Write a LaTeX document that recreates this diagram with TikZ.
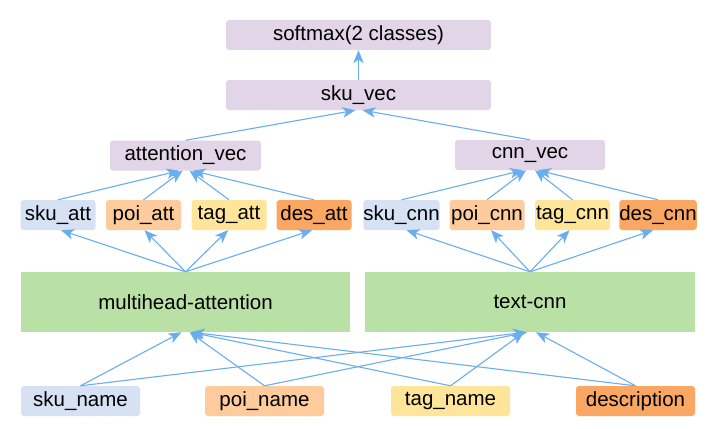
\documentclass[tikz,border=0pt]{standalone}
\usepackage{fontspec}
\setmainfont{Liberation Sans}
\usetikzlibrary{arrows.meta}
\definecolor{lav}{HTML}{E1D5E7}
\definecolor{cblue}{HTML}{D6E2F4}
\definecolor{cpoi}{HTML}{FDCB9C}
\definecolor{ctag}{HTML}{FFE59A}
\definecolor{cdes}{HTML}{F9A763}
\definecolor{cgreen}{HTML}{B9E0A5}
\definecolor{carrow}{HTML}{6AAEEE}
\tikzset{
  box/.style={rounded corners=3pt, inner sep=0pt, text=black,
    font=\fontsize{20.5}{24}\selectfont},
  smallbox/.style={box, minimum width=75pt, minimum height=30pt},
  namebox/.style={box, minimum width=119pt, minimum height=30pt},
  vecbox/.style={box, fill=lav, minimum height=30pt},
  bigbox/.style={box, rounded corners=0pt, fill=cgreen, minimum width=330pt, minimum height=60pt},
  arr/.style={draw=carrow, line width=1.1pt, -{Stealth[length=13pt,width=10.5pt,inset=3.5pt]}}
}
\begin{document}
\begin{tikzpicture}[x=1pt,y=-1pt]
\useasboundingbox[fill=white] (0,0) rectangle (708,428);
% top
\node[vecbox, minimum width=265pt] (soft) at (358.5,35) {softmax(2 classes)};
\node[vecbox, minimum width=265pt] (skuvec) at (358.5,95) {sku\_vec};
\node[vecbox, minimum width=151pt] (attvec) at (185.5,155.5) {attention\_vec};
\node[vecbox, minimum width=150pt] (cnnvec) at (530,155) {cnn\_vec};
% row
\node[smallbox, fill=cblue] (skuatt) at (58,215) {sku\_att};
\node[smallbox, fill=cpoi] (poiatt) at (143.5,215) {poi\_att};
\node[smallbox, fill=ctag] (tagatt) at (229,215) {tag\_att};
\node[smallbox, fill=cdes] (desatt) at (314,215) {des\_att};
\node[smallbox, fill=cblue] (skucnn) at (401.5,215) {sku\_cnn};
\node[smallbox, fill=cpoi] (poicnn) at (487,215) {poi\_cnn};
\node[smallbox, fill=ctag] (tagcnn) at (572.5,215) {tag\_cnn};
\node[smallbox, fill=cdes] (descnn) at (658,215) {des\_cnn};
% big
\node[bigbox, minimum width=329pt] (mh) at (185.5,302) {multihead-attention};
\node[bigbox] (tc) at (530,302) {text-cnn};
% bottom
\node[namebox, fill=cblue] (skuname) at (80.5,401) {sku\_name};
\node[namebox, fill=cpoi] (poiname) at (264.5,401) {poi\_name};
\node[namebox, fill=ctag] (tagname) at (450.5,401) {tag\_name};
\node[namebox, fill=cdes] (desc) at (635.5,401) {description};
% arrows top
\draw[arr] (skuvec.north) -- (soft.south);
\draw[arr] (attvec.north) -- ([xshift=-3pt]skuvec.south);
\draw[arr] (cnnvec.north) -- ([xshift=4pt]skuvec.south);
% row to vec
\draw[arr] (skuatt.north) -- ([xshift=-6pt]attvec.south);
\draw[arr] (poiatt.north) -- ([xshift=-3pt]attvec.south);
\draw[arr] (tagatt.north) -- ([xshift=4pt]attvec.south);
\draw[arr] (desatt.north) -- ([xshift=7pt]attvec.south);
\draw[arr] (skucnn.north) -- ([xshift=-7pt]cnnvec.south);
\draw[arr] (poicnn.north) -- ([xshift=-4pt]cnnvec.south);
\draw[arr] (tagcnn.north) -- ([xshift=5pt]cnnvec.south);
\draw[arr] (descnn.north) -- ([xshift=8pt]cnnvec.south);
% big to row
\draw[arr] (mh.north) -- ([xshift=3pt]skuatt.south);
\draw[arr] (mh.north) -- ([xshift=1pt]poiatt.south);
\draw[arr] (mh.north) -- ([xshift=-1pt]tagatt.south);
\draw[arr] (mh.north) -- ([xshift=-2pt]desatt.south);
\draw[arr] (tc.north) -- ([xshift=5pt]skucnn.south);
\draw[arr] (tc.north) -- ([xshift=4pt]poicnn.south);
\draw[arr] (tc.north) -- ([xshift=-3pt]tagcnn.south);
\draw[arr] (tc.north) -- ([xshift=-5pt]descnn.south);
% bottom to big
\draw[arr] (skuname.north) -- ([xshift=-4pt]mh.south);
\draw[arr] (poiname.north) -- ([xshift=4pt]mh.south);
\draw[arr] (tagname.north) -- ([xshift=5pt]mh.south);
\draw[arr] (desc.north) -- ([xshift=6pt]mh.south);
\draw[arr] (skuname.north) -- ([xshift=-4pt]tc.south);
\draw[arr] (poiname.north) -- ([xshift=-3pt]tc.south);
\draw[arr] (tagname.north) -- ([xshift=-6pt]tc.south);
\draw[arr] (desc.north) -- ([xshift=6pt]tc.south);
\end{tikzpicture}
\end{document}
